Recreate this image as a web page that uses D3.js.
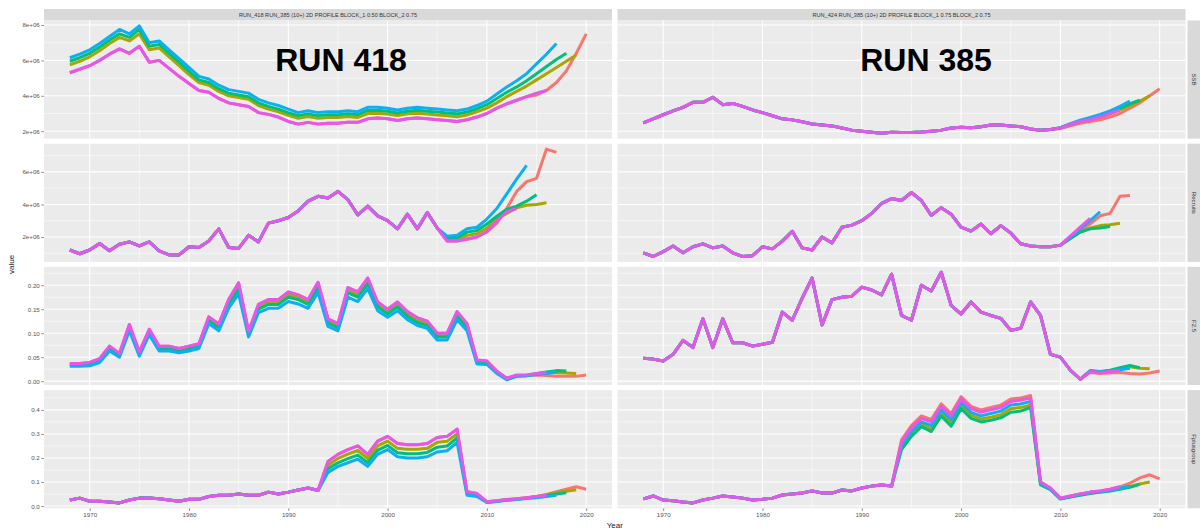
<!DOCTYPE html>
<html>
<head>
<meta charset="utf-8">
<script src="https://cdn.jsdelivr.net/npm/d3@7"></script>
<style>
  html, body { margin: 0; padding: 0; background: #fff; }
  svg { display: block; font-family: "Liberation Sans", Arial, sans-serif; }
</style>
</head>
<body>
<svg id="chart" width="1201" height="530"></svg>
<script>
// ---- facet labels -------------------------------------------------------
const runLabels = [
  "RUN_418  RUN_385 (10+) 2D PROFILE BLOCK_1 0.50 BLOCK_2 0.75",
  "RUN_424  RUN_385 (10+) 2D PROFILE BLOCK_1 0.75 BLOCK_2 0.75"
];
const runTitles = ["RUN 418", "RUN 385"];
const variables = ["SSB", "Recruits", "F2.5", "Fplusgroup"];
const firstYear = 1968;

// retrospective peels, in plotting order (terminal year)
const peels = ["2020", "2019", "2018", "2017", "2016"];
const peelColors = ["#F8766D", "#A8A600", "#00BF7D", "#0CB0F2", "#E656EC"];

// ---- tick labels --------------------------------------------------------
const xTicks = [1970, 1980, 1990, 2000, 2010, 2020];
const ssbTicks = [2, 4, 6, 8];            // millions
const ssbTickLabels = ["2e+06", "4e+06", "6e+06", "8e+06"];
const recTicks = [2, 4, 6];               // millions
const recTickLabels = ["2e+06", "4e+06", "6e+06"];
const fTicks = [0, 0.05, 0.10, 0.15, 0.20];
const fTickLabels = ["0.00", "0.05", "0.10", "0.15", "0.20"];
const fpTicks = [0, 0.1, 0.2, 0.3, 0.4];
const fpTickLabels = ["0.0", "0.1", "0.2", "0.3", "0.4"];

// ---- RUN 418: SSB (millions), from 1968 ---------------------------------
const ssb418_2017 = [6.15, 6.35, 6.6, 6.95, 7.35, 7.75, 7.5, 7.95, 7.0, 7.1,
  6.6, 6.1, 5.6, 5.1, 4.95, 4.6, 4.35, 4.25, 4.15, 3.8,
  3.6, 3.45, 3.25, 3.05, 3.15, 3.05, 3.1, 3.1, 3.15, 3.1,
  3.35, 3.35, 3.3, 3.2, 3.3, 3.35, 3.3, 3.25, 3.2, 3.15,
  3.25, 3.45, 3.7, 4.1, 4.5, 4.85, 5.25, 5.8, 6.35, 6.95];
const ssb418_2018 = [5.95, 6.15, 6.4, 6.75, 7.15, 7.5, 7.3, 7.75, 6.8, 6.9,
  6.4, 5.9, 5.4, 4.9, 4.75, 4.4, 4.15, 4.05, 3.95, 3.6,
  3.4, 3.25, 3.05, 2.88, 2.98, 2.88, 2.93, 2.93, 2.98, 2.93,
  3.17, 3.18, 3.13, 3.03, 3.13, 3.18, 3.13, 3.08, 3.03, 2.98,
  3.08, 3.27, 3.5, 3.85, 4.2, 4.5, 4.85, 5.25, 5.65, 6.05, 6.4];
const ssb418_2019 = [5.75, 5.95, 6.2, 6.55, 6.95, 7.3, 7.1, 7.5, 6.6, 6.7,
  6.2, 5.7, 5.2, 4.75, 4.6, 4.25, 4.0, 3.9, 3.8, 3.45,
  3.25, 3.1, 2.9, 2.73, 2.83, 2.73, 2.78, 2.78, 2.83, 2.78,
  3.0, 3.02, 2.97, 2.88, 2.98, 3.02, 2.97, 2.92, 2.87, 2.82,
  2.92, 3.1, 3.3, 3.6, 3.95, 4.25, 4.55, 4.9, 5.25, 5.6, 5.95, 6.3];
const ssb418_2016 = [5.3, 5.5, 5.7, 6.0, 6.35, 6.65, 6.4, 6.8, 5.9, 6.0,
  5.55, 5.1, 4.7, 4.3, 4.2, 3.85, 3.6, 3.5, 3.4, 3.05,
  2.95, 2.8, 2.55, 2.4, 2.5, 2.4, 2.45, 2.45, 2.5, 2.5,
  2.7, 2.75, 2.7, 2.6, 2.7, 2.75, 2.7, 2.65, 2.6, 2.55,
  2.65, 2.8, 3.0, 3.3, 3.55, 3.75, 3.95, 4.15, 4.3];
const ssb418_2020 = ssb418_2016.slice(0, 47).concat([4.05, 4.3, 4.75, 5.4, 6.4, 7.5]);

// ---- RUN 418: Recruits (millions) ---------------------------------------
const rec418_common = [1.2, 0.97, 1.2, 1.6, 1.15, 1.55, 1.7, 1.45, 1.7, 1.15,
  0.9, 0.9, 1.4, 1.35, 1.75, 2.5, 1.35, 1.3, 2.1, 1.7,
  2.85, 3.0, 3.2, 3.6, 4.2, 4.5, 4.4, 4.8, 4.3, 3.35,
  3.9, 3.3, 3.0, 2.5, 3.4, 2.5, 3.5, 2.55];               // 1968-2005
const rec418_2016 = rec418_common.concat([1.75, 1.75, 1.9, 2.0, 2.35, 2.95, 3.55, 3.75]);
const rec418_2017 = rec418_common.concat([2.05, 2.1, 2.5, 2.6, 3.1, 3.75, 4.65, 5.55, 6.4]);
const rec418_2018 = rec418_common.concat([1.95, 1.95, 2.3, 2.4, 2.8, 3.27, 3.7, 3.9, 4.2, 4.6]);
const rec418_2019 = rec418_common.concat([1.85, 1.85, 2.1, 2.2, 2.55, 3.1, 3.45, 3.8, 3.95, 4.0, 4.1]);
const rec418_2020 = rec418_common.concat([1.75, 1.75, 1.85, 2.0, 2.3, 2.85, 3.75, 4.8, 5.4, 5.6, 7.4, 7.2]);

// ---- RUN 418: F2.5 -------------------------------------------------------
const f418_2016 = [0.037, 0.037, 0.039, 0.047, 0.073, 0.058, 0.118, 0.061, 0.108, 0.073,
  0.073, 0.068, 0.073, 0.078, 0.134, 0.119, 0.170, 0.205, 0.104, 0.160,
  0.170, 0.170, 0.186, 0.180, 0.170, 0.206, 0.130, 0.120, 0.195, 0.186,
  0.215, 0.165, 0.150, 0.165, 0.145, 0.132, 0.125, 0.100, 0.100, 0.145,
  0.120, 0.044, 0.042, 0.021, 0.006, 0.013, 0.013, 0.016, 0.018];
const f418_2017 = [0.031, 0.031, 0.032, 0.039, 0.063, 0.050, 0.105, 0.052, 0.097, 0.063,
  0.063, 0.059, 0.063, 0.068, 0.120, 0.105, 0.152, 0.182, 0.092, 0.143,
  0.152, 0.152, 0.166, 0.161, 0.152, 0.185, 0.114, 0.105, 0.175, 0.166,
  0.193, 0.147, 0.133, 0.147, 0.128, 0.116, 0.110, 0.086, 0.086, 0.128,
  0.105, 0.036, 0.035, 0.016, 0.003, 0.010, 0.011, 0.014, 0.016, 0.019];
const f418_2018 = [0.033, 0.033, 0.035, 0.042, 0.067, 0.053, 0.110, 0.056, 0.101, 0.067,
  0.067, 0.062, 0.067, 0.072, 0.126, 0.111, 0.160, 0.191, 0.097, 0.150,
  0.160, 0.160, 0.175, 0.170, 0.160, 0.194, 0.121, 0.111, 0.184, 0.175,
  0.203, 0.155, 0.140, 0.155, 0.135, 0.122, 0.116, 0.092, 0.092, 0.135,
  0.111, 0.039, 0.038, 0.018, 0.004, 0.011, 0.012, 0.016, 0.019, 0.022, 0.021];
const f418_2019 = [0.035, 0.035, 0.037, 0.044, 0.070, 0.055, 0.114, 0.058, 0.104, 0.070,
  0.070, 0.065, 0.070, 0.075, 0.130, 0.115, 0.165, 0.198, 0.100, 0.155,
  0.165, 0.165, 0.180, 0.175, 0.165, 0.200, 0.125, 0.115, 0.190, 0.180,
  0.209, 0.160, 0.145, 0.160, 0.140, 0.127, 0.120, 0.096, 0.096, 0.140,
  0.115, 0.041, 0.040, 0.019, 0.005, 0.012, 0.012, 0.015, 0.017, 0.018, 0.017, 0.016];
const f418_2020 = f418_2016.slice(0, 45).concat([0.012, 0.012, 0.013, 0.012, 0.010, 0.010, 0.010, 0.013]);

// ---- RUN 418: Fplusgroup -------------------------------------------------
const fp418_common = [0.025, 0.033, 0.02, 0.02, 0.017, 0.013, 0.025, 0.033, 0.033, 0.03,
  0.025, 0.02, 0.028, 0.028, 0.04, 0.045, 0.045, 0.05, 0.045, 0.045,
  0.058, 0.05, 0.058, 0.067, 0.075, 0.065];               // 1968-1993
const fp418_2016 = fp418_common.concat([0.185, 0.215, 0.235, 0.25, 0.215, 0.27, 0.29, 0.26, 0.255, 0.255,
  0.26, 0.285, 0.29, 0.32, 0.06, 0.052, 0.018, 0.022, 0.027, 0.03, 0.035, 0.04, 0.045]);
const fp418_2017 = fp418_common.concat([0.14, 0.165, 0.18, 0.195, 0.165, 0.215, 0.235, 0.205, 0.2, 0.2,
  0.205, 0.225, 0.23, 0.265, 0.045, 0.04, 0.015, 0.019, 0.024, 0.027, 0.031, 0.035, 0.04, 0.045]);
const fp418_2018 = fp418_common.concat([0.155, 0.18, 0.197, 0.212, 0.18, 0.232, 0.252, 0.222, 0.218, 0.218,
  0.223, 0.245, 0.25, 0.283, 0.05, 0.044, 0.016, 0.02, 0.025, 0.028, 0.033, 0.038, 0.043, 0.05, 0.055]);
const fp418_2019 = fp418_common.concat([0.17, 0.198, 0.216, 0.231, 0.198, 0.25, 0.27, 0.24, 0.236, 0.236,
  0.24, 0.265, 0.27, 0.3, 0.055, 0.048, 0.017, 0.021, 0.026, 0.029, 0.034, 0.04, 0.047, 0.055, 0.062, 0.068]);
const fp418_2020 = fp418_common.concat([0.185, 0.215, 0.235, 0.25, 0.215, 0.27, 0.29, 0.26, 0.255, 0.255,
  0.26, 0.285, 0.29, 0.32, 0.06, 0.052, 0.018, 0.022, 0.027, 0.03, 0.035, 0.04, 0.048, 0.06, 0.07, 0.08, 0.07]);

// ---- RUN 385: SSB (millions) ---------------------------------------------
const ssb385_common = [2.47, 2.7, 2.93, 3.15, 3.35, 3.63, 3.63, 3.92, 3.5, 3.57,
  3.4, 3.2, 3.05, 2.87, 2.7, 2.64, 2.53, 2.41, 2.35, 2.3,
  2.18, 2.06, 2.0, 1.94, 1.88, 1.94, 1.92, 1.93, 1.95, 2.0,
  2.06, 2.18, 2.23, 2.2, 2.25, 2.35, 2.35, 2.3, 2.25, 2.12,
  2.06, 2.1];                                             // 1968-2009
const ssb385_2016 = ssb385_common.concat([2.18, 2.38, 2.55, 2.65, 2.8, 3.0, 3.2]);
const ssb385_2017 = ssb385_common.concat([2.2, 2.42, 2.62, 2.78, 2.95, 3.15, 3.4, 3.7]);
const ssb385_2018 = ssb385_common.concat([2.2, 2.4, 2.58, 2.72, 2.88, 3.08, 3.3, 3.55, 3.75]);
const ssb385_2019 = ssb385_common.concat([2.18, 2.36, 2.53, 2.66, 2.8, 2.98, 3.2, 3.45, 3.7, 4.0]);
const ssb385_2020 = ssb385_common.concat([2.15, 2.3, 2.45, 2.55, 2.65, 2.8, 3.0, 3.3, 3.6, 4.0, 4.4]);

// ---- RUN 385: Recruits (millions) ----------------------------------------
const rec385_common = [1.03, 0.8, 1.1, 1.45, 1.03, 1.4, 1.58, 1.33, 1.45, 1.03,
  0.8, 0.85, 1.4, 1.27, 1.75, 2.35, 1.33, 1.2, 2.0, 1.64,
  2.6, 2.73, 3.0, 3.45, 4.06, 4.36, 4.24, 4.73, 4.24, 3.33,
  3.8, 3.4, 2.6, 2.36, 2.8, 2.2, 2.7, 2.25, 1.58, 1.45,
  1.4, 1.4];                                              // 1968-2009
const rec385_2016 = rec385_common.concat([1.5, 2.05, 2.6, 3.15]);
const rec385_2017 = rec385_common.concat([1.5, 2.0, 2.5, 3.0, 3.55]);
const rec385_2018 = rec385_common.concat([1.5, 1.9, 2.3, 2.5, 2.55, 2.65]);
const rec385_2019 = rec385_common.concat([1.5, 1.9, 2.3, 2.55, 2.7, 2.75, 2.85]);
const rec385_2020 = rec385_common.concat([1.5, 1.95, 2.35, 2.8, 3.3, 3.45, 4.5, 4.55]);

// ---- RUN 385: F2.5 ---------------------------------------------------------
const f385_common = [0.048, 0.046, 0.042, 0.056, 0.085, 0.07, 0.13, 0.07, 0.13, 0.08,
  0.08, 0.073, 0.077, 0.081, 0.144, 0.127, 0.173, 0.215, 0.117, 0.17,
  0.175, 0.177, 0.196, 0.19, 0.18, 0.223, 0.137, 0.127, 0.2, 0.188,
  0.227, 0.158, 0.14, 0.165, 0.144, 0.137, 0.131, 0.106, 0.11, 0.165,
  0.137, 0.056, 0.05, 0.023, 0.004];                      // 1968-2012
const f385_2016 = f385_common.concat([0.02, 0.018, 0.02, 0.022]);
const f385_2017 = f385_common.concat([0.021, 0.019, 0.021, 0.024, 0.027]);
const f385_2018 = f385_common.concat([0.022, 0.02, 0.023, 0.028, 0.033, 0.028]);
const f385_2019 = f385_common.concat([0.021, 0.019, 0.022, 0.026, 0.03, 0.027, 0.026]);
const f385_2020 = f385_common.concat([0.018, 0.016, 0.017, 0.018, 0.016, 0.015, 0.017, 0.021]);

// ---- RUN 385: Fplusgroup ---------------------------------------------------
const fp385_common = [0.03, 0.042, 0.025, 0.022, 0.017, 0.013, 0.025, 0.033, 0.042, 0.038,
  0.033, 0.025, 0.028, 0.033, 0.046, 0.05, 0.054, 0.063, 0.054, 0.054,
  0.067, 0.063, 0.075, 0.083, 0.088, 0.083];             // 1968-1993
const fp385_2020 = fp385_common.concat([0.275, 0.335, 0.375, 0.36, 0.425, 0.385, 0.455, 0.415, 0.4, 0.41,
  0.42, 0.445, 0.45, 0.46, 0.1, 0.075, 0.033, 0.042, 0.05, 0.058, 0.063, 0.07, 0.08, 0.095, 0.117, 0.13, 0.113]);
const fp385_2016 = fp385_common.concat([0.265, 0.325, 0.365, 0.35, 0.415, 0.375, 0.445, 0.405, 0.39, 0.4,
  0.41, 0.435, 0.44, 0.45, 0.1, 0.075, 0.033, 0.042, 0.05, 0.058, 0.063, 0.07, 0.08]);
const fp385_2017 = fp385_common.concat([0.255, 0.31, 0.35, 0.335, 0.4, 0.36, 0.43, 0.39, 0.375, 0.385,
  0.395, 0.42, 0.425, 0.435, 0.095, 0.072, 0.031, 0.04, 0.048, 0.055, 0.06, 0.066, 0.074, 0.082]);
const fp385_2019 = fp385_common.concat([0.245, 0.3, 0.34, 0.322, 0.388, 0.345, 0.418, 0.378, 0.362, 0.37,
  0.38, 0.405, 0.41, 0.42, 0.092, 0.07, 0.03, 0.039, 0.047, 0.054, 0.059, 0.065, 0.073, 0.082, 0.092, 0.1]);
const fp385_2018 = fp385_common.concat([0.235, 0.29, 0.33, 0.31, 0.375, 0.332, 0.405, 0.365, 0.35, 0.357,
  0.367, 0.39, 0.395, 0.41, 0.088, 0.068, 0.029, 0.038, 0.045, 0.052, 0.057, 0.063, 0.07, 0.078, 0.09]);

// series per facet, each list in peel order (2020, 2019, 2018, 2017, 2016)
const facetSeries = [
  [ // RUN 418
    [ssb418_2020, ssb418_2019, ssb418_2018, ssb418_2017, ssb418_2016],
    [rec418_2020, rec418_2019, rec418_2018, rec418_2017, rec418_2016],
    [f418_2020, f418_2019, f418_2018, f418_2017, f418_2016],
    [fp418_2020, fp418_2019, fp418_2018, fp418_2017, fp418_2016]
  ],
  [ // RUN 385
    [ssb385_2020, ssb385_2019, ssb385_2018, ssb385_2017, ssb385_2016],
    [rec385_2020, rec385_2019, rec385_2018, rec385_2017, rec385_2016],
    [f385_2020, f385_2019, f385_2018, f385_2017, f385_2016],
    [fp385_2020, fp385_2019, fp385_2018, fp385_2017, fp385_2016]
  ]
];
const rowTicks = [
  [ssbTicks, ssbTickLabels], [recTicks, recTickLabels],
  [fTicks, fTickLabels], [fpTicks, fpTickLabels]
];

// ---- layout ---------------------------------------------------------------
const svg = d3.select("#chart");
const cols = [{ x0: 44, x1: 612 }, { x0: 617.5, x1: 1185.5 }];
const stripTop = 9, stripH = 11.5;
const rowTop = stripTop + stripH, rowH = 118.2, rowGap = 5;
const rightStrip = { x0: 1187.5, w: 12.5 };
const panelBg = "#EBEBEB", stripBg = "#D9D9D9";

// shared x scale domain with ggplot-style 5% expansion
const allYears = [firstYear, 2020];
const xPad = (allYears[1] - allYears[0]) * 0.05;
const xDomain = [allYears[0] - xPad, allYears[1] + xPad];

// one y scale per row (free_y), shared by both columns
const yScales = variables.map((v, r) => {
  const vals = facetSeries.flatMap(run => run[r].flat());
  const [lo, hi] = d3.extent(vals);
  const pad = (hi - lo) * 0.05;
  const y0 = rowTop + r * (rowH + rowGap);
  return d3.scaleLinear().domain([lo - pad, hi + pad]).range([y0 + rowH, y0]);
});

const gridMajor = "#FFFFFF";

cols.forEach((c, ci) => {
  const x = d3.scaleLinear().domain(xDomain).range([c.x0, c.x1]);
  const xMinor = d3.range(1965, 2026, 10).filter(v => v >= xDomain[0] && v <= xDomain[1]);

  // column strip
  svg.append("rect").attr("x", c.x0).attr("y", stripTop)
    .attr("width", c.x1 - c.x0).attr("height", stripH).attr("fill", stripBg);
  svg.append("text").attr("x", (c.x0 + c.x1) / 2).attr("y", stripTop + stripH / 2 + 2)
    .attr("text-anchor", "middle").attr("font-size", 5.6).attr("fill", "#333")
    .text(runLabels[ci]);

  variables.forEach((v, r) => {
    const y = yScales[r];
    const [top, bottom] = [y.range()[1], y.range()[0]];
    const g = svg.append("g");
    g.append("rect").attr("x", c.x0).attr("y", top)
      .attr("width", c.x1 - c.x0).attr("height", bottom - top).attr("fill", panelBg);

    const [ticks, labels] = rowTicks[r];
    const step = ticks[1] - ticks[0];
    const yMinor = d3.range(ticks[0] - step / 2, ticks[ticks.length - 1] + step, step)
      .filter(t => t >= y.domain()[0] && t <= y.domain()[1]);

    // minor grid
    g.selectAll(".ymin").data(yMinor).join("line")
      .attr("x1", c.x0).attr("x2", c.x1).attr("y1", d => y(d)).attr("y2", d => y(d))
      .attr("stroke", gridMajor).attr("stroke-width", 0.5);
    g.selectAll(".xmin").data(xMinor).join("line")
      .attr("y1", top).attr("y2", bottom).attr("x1", d => x(d)).attr("x2", d => x(d))
      .attr("stroke", gridMajor).attr("stroke-width", 0.5);
    // major grid
    g.selectAll(".ymaj").data(ticks).join("line")
      .attr("x1", c.x0).attr("x2", c.x1).attr("y1", d => y(d)).attr("y2", d => y(d))
      .attr("stroke", gridMajor).attr("stroke-width", 1.1);
    g.selectAll(".xmaj").data(xTicks).join("line")
      .attr("y1", top).attr("y2", bottom).attr("x1", d => x(d)).attr("x2", d => x(d))
      .attr("stroke", gridMajor).attr("stroke-width", 1.1);

    // series
    const line = d3.line().x((d, i) => x(firstYear + i)).y(d => y(d));
    facetSeries[ci][r].forEach((vals, pi) => {
      g.append("path").attr("d", line(vals)).attr("fill", "none")
        .attr("stroke", peelColors[pi]).attr("stroke-width", 3)
        .attr("stroke-linejoin", "round").attr("stroke-linecap", "butt");
    });

    // y axis on the left column only
    if (ci === 0) {
      const ax = d3.axisLeft(y).tickValues(ticks).tickSize(2.7).tickPadding(1.5)
        .tickFormat((d, i) => labels[i]);
      const a = svg.append("g").attr("transform", `translate(${c.x0},0)`).call(ax);
      a.select(".domain").remove();
      a.selectAll("line").attr("stroke", "#444").attr("stroke-width", 0.6);
      a.selectAll("text").attr("font-size", 6.2).attr("fill", "#555")
        .attr("font-family", "Liberation Sans, Arial, sans-serif");
    }
    // row strip on the right column only
    if (ci === 1) {
      svg.append("rect").attr("x", rightStrip.x0).attr("y", top)
        .attr("width", rightStrip.w).attr("height", bottom - top).attr("fill", stripBg);
      svg.append("text")
        .attr("transform", `translate(${rightStrip.x0 + rightStrip.w / 2 - 2},${(top + bottom) / 2}) rotate(90)`)
        .attr("text-anchor", "middle").attr("font-size", 6).attr("fill", "#333").text(v);
    }
  });

  // x axis under the bottom row
  const bottomY = yScales[3].range()[0];
  const ax = d3.axisBottom(x).tickValues(xTicks).tickSize(2.7).tickPadding(2).tickFormat(d3.format("d"));
  const a = svg.append("g").attr("transform", `translate(0,${bottomY})`).call(ax);
  a.select(".domain").remove();
  a.selectAll("line").attr("stroke", "#444").attr("stroke-width", 0.6);
  a.selectAll("text").attr("font-size", 6.2).attr("fill", "#555")
    .attr("font-family", "Liberation Sans, Arial, sans-serif");

  // run title drawn over the SSB panel
  svg.append("text").attr("x", ci === 0 ? 341 : 926).attr("y", 71)
    .attr("text-anchor", "middle").attr("font-size", 32).attr("font-weight", "bold")
    .attr("fill", "#000").text(runTitles[ci]);
});

// axis titles
svg.append("text").attr("x", (cols[0].x0 + cols[1].x1) / 2).attr("y", 528)
  .attr("text-anchor", "middle").attr("font-size", 8).attr("fill", "#222").text("Year");
svg.append("text").attr("transform", `translate(14,${(rowTop + yScales[3].range()[0]) / 2}) rotate(-90)`)
  .attr("text-anchor", "middle").attr("font-size", 8).attr("fill", "#222").text("value");
</script>
</body>
</html>
